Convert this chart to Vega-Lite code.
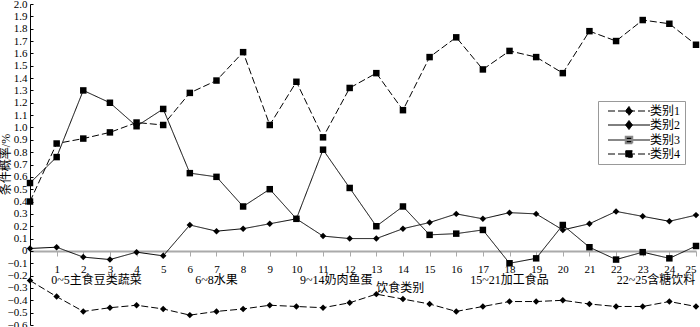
{
  "$schema": "https://vega.github.io/schema/vega-lite/v6.json",
  "width": 666,
  "height": 321,
  "autosize": {"type": "none"},
  "padding": {"left": 30, "top": 4, "right": 4, "bottom": 2},
  "background": "white",
  "config": {
    "view": {"stroke": null},
    "font": "Liberation Serif, Noto Sans CJK SC, serif",
    "axis": {"labelFont": "Liberation Serif, Noto Sans CJK SC, serif", "titleFont": "Liberation Serif, Noto Sans CJK SC, serif", "grid": false, "labelOverlap": false},
    "axisX": {"offset": -74, "domainColor": "#aaaaaa", "domainWidth": 2, "tickColor": "#aaaaaa", "tickSize": 5,
      "labelPadding": 7, "labelFontSize": 11, "labelColor": "black", "labelOverlap": false, "title": null},
    "axisY": {"labelExpr": "abs(datum.value) < 1e-9 ? '0' : format(datum.value, '.1f')",
      "domainColor": "black", "tickColor": "black", "tickSize": -3, "labelPadding": 6, "labelFontSize": 11, "labelColor": "black", "labelOverlap": false,
      "titleFontSize": 12, "titleFontWeight": "normal", "titleColor": "black",
      "titleX": -25, "titleY": 160, "titleAlign": "center", "titleBaseline": "middle", "titleAngle": -90}
  },
  "datasets": {
    "groups": [
      {"mid": 2.5, "label": "0~5主食豆类蔬菜"},
      {"mid": 7, "label": "6~8水果"},
      {"mid": 11.5, "label": "9~14奶肉鱼蛋"},
      {"mid": 18, "label": "15~21加工食品"},
      {"mid": 23.5, "label": "22~25含糖饮料"}
    ],
    "xtitle": [{"mid": 13.9, "label": "饮食类别"}]
  },
  "data": {"values": [
    {"x":0,"s":"类别1","v":-0.24},{"x":1,"s":"类别1","v":-0.37},{"x":2,"s":"类别1","v":-0.49},{"x":3,"s":"类别1","v":-0.46},{"x":4,"s":"类别1","v":-0.44},{"x":5,"s":"类别1","v":-0.47},{"x":6,"s":"类别1","v":-0.52},{"x":7,"s":"类别1","v":-0.49},{"x":8,"s":"类别1","v":-0.47},{"x":9,"s":"类别1","v":-0.44},{"x":10,"s":"类别1","v":-0.45},{"x":11,"s":"类别1","v":-0.46},{"x":12,"s":"类别1","v":-0.42},{"x":13,"s":"类别1","v":-0.35},{"x":14,"s":"类别1","v":-0.39},{"x":15,"s":"类别1","v":-0.43},{"x":16,"s":"类别1","v":-0.49},{"x":17,"s":"类别1","v":-0.45},{"x":18,"s":"类别1","v":-0.41},{"x":19,"s":"类别1","v":-0.41},{"x":20,"s":"类别1","v":-0.40},{"x":21,"s":"类别1","v":-0.43},{"x":22,"s":"类别1","v":-0.45},{"x":23,"s":"类别1","v":-0.45},{"x":24,"s":"类别1","v":-0.41},{"x":25,"s":"类别1","v":-0.45},
    {"x":0,"s":"类别2","v":0.02},{"x":1,"s":"类别2","v":0.03},{"x":2,"s":"类别2","v":-0.05},{"x":3,"s":"类别2","v":-0.07},{"x":4,"s":"类别2","v":-0.01},{"x":5,"s":"类别2","v":-0.04},{"x":6,"s":"类别2","v":0.21},{"x":7,"s":"类别2","v":0.16},{"x":8,"s":"类别2","v":0.18},{"x":9,"s":"类别2","v":0.22},{"x":10,"s":"类别2","v":0.26},{"x":11,"s":"类别2","v":0.12},{"x":12,"s":"类别2","v":0.10},{"x":13,"s":"类别2","v":0.10},{"x":14,"s":"类别2","v":0.18},{"x":15,"s":"类别2","v":0.23},{"x":16,"s":"类别2","v":0.30},{"x":17,"s":"类别2","v":0.26},{"x":18,"s":"类别2","v":0.31},{"x":19,"s":"类别2","v":0.30},{"x":20,"s":"类别2","v":0.17},{"x":21,"s":"类别2","v":0.22},{"x":22,"s":"类别2","v":0.32},{"x":23,"s":"类别2","v":0.28},{"x":24,"s":"类别2","v":0.24},{"x":25,"s":"类别2","v":0.29},
    {"x":0,"s":"类别3","v":0.55},{"x":1,"s":"类别3","v":0.76},{"x":2,"s":"类别3","v":1.30},{"x":3,"s":"类别3","v":1.20},{"x":4,"s":"类别3","v":1.01},{"x":5,"s":"类别3","v":1.15},{"x":6,"s":"类别3","v":0.63},{"x":7,"s":"类别3","v":0.60},{"x":8,"s":"类别3","v":0.36},{"x":9,"s":"类别3","v":0.50},{"x":10,"s":"类别3","v":0.26},{"x":11,"s":"类别3","v":0.82},{"x":12,"s":"类别3","v":0.51},{"x":13,"s":"类别3","v":0.20},{"x":14,"s":"类别3","v":0.36},{"x":15,"s":"类别3","v":0.13},{"x":16,"s":"类别3","v":0.14},{"x":17,"s":"类别3","v":0.17},{"x":18,"s":"类别3","v":-0.10},{"x":19,"s":"类别3","v":-0.06},{"x":20,"s":"类别3","v":0.21},{"x":21,"s":"类别3","v":0.03},{"x":22,"s":"类别3","v":-0.07},{"x":23,"s":"类别3","v":-0.01},{"x":24,"s":"类别3","v":-0.06},{"x":25,"s":"类别3","v":0.04},
    {"x":0,"s":"类别4","v":0.40},{"x":1,"s":"类别4","v":0.87},{"x":2,"s":"类别4","v":0.91},{"x":3,"s":"类别4","v":0.96},{"x":4,"s":"类别4","v":1.04},{"x":5,"s":"类别4","v":1.02},{"x":6,"s":"类别4","v":1.28},{"x":7,"s":"类别4","v":1.38},{"x":8,"s":"类别4","v":1.61},{"x":9,"s":"类别4","v":1.02},{"x":10,"s":"类别4","v":1.37},{"x":11,"s":"类别4","v":0.92},{"x":12,"s":"类别4","v":1.32},{"x":13,"s":"类别4","v":1.44},{"x":14,"s":"类别4","v":1.14},{"x":15,"s":"类别4","v":1.57},{"x":16,"s":"类别4","v":1.73},{"x":17,"s":"类别4","v":1.47},{"x":18,"s":"类别4","v":1.62},{"x":19,"s":"类别4","v":1.57},{"x":20,"s":"类别4","v":1.44},{"x":21,"s":"类别4","v":1.78},{"x":22,"s":"类别4","v":1.70},{"x":23,"s":"类别4","v":1.87},{"x":24,"s":"类别4","v":1.84},{"x":25,"s":"类别4","v":1.67}
  ]},
  "layer": [
    {
      "mark": {"type": "line", "color": "black", "strokeWidth": 1},
      "encoding": {
        "x": {"field": "x", "type": "quantitative", "scale": {"domain": [0, 25], "nice": false, "zero": false},
          "axis": {"title": null, "labelOverlap": false, "values": [1,2,3,4,5,6,7,8,9,10,11,12,13,14,15,16,17,18,19,20,21,22,23,24,25]}},
        "y": {"field": "v", "type": "quantitative", "scale": {"domain": [-0.6, 2.0], "nice": false, "zero": false},
          "axis": {"title": "条件概率/%", "labelOverlap": false, "values": [-0.6,-0.5,-0.4,-0.3,-0.2,-0.1,0,0.1,0.2,0.3,0.4,0.5,0.6,0.7,0.8,0.9,1.0,1.1,1.2,1.3,1.4,1.5,1.6,1.7,1.8,1.9,2.0]}},
        "strokeDash": {"field": "s", "type": "nominal",
          "scale": {"domain": ["类别1","类别2","类别3","类别4"], "range": [[7,3],[1,0],[1,0],[7,3]]},
          "legend": {"title": null, "orient": "none", "legendX": 568, "legendY": 97,
            "strokeColor": "#999999", "fillColor": "white", "padding": 4, "rowPadding": 0,
            "symbolSize": 100, "labelFontSize": 12, "labelColor": "black",
            "symbolOffset": 21, "labelOffset": 15,
            "symbolType": {"expr": "(datum.value === '类别1' || datum.value === '类别2') ? 'M-4.2,0H4.2M-0.7,0L0,-0.9L0.7,0L0,0.9Z' : 'M-4.2,0H4.2M-0.65,-0.65H0.65V0.65H-0.65Z'"},
            "symbolFillColor": "black",
            "symbolStrokeColor": {"expr": "datum.value === '类别3' ? '#888888' : 'black'"},
            "symbolStrokeWidth": {"expr": "datum.value === '类别3' ? 2 : 1"}
          }
        }
      }
    },
    {
      "mark": {"type": "point", "filled": true, "color": "black", "opacity": 1, "size": 42},
      "encoding": {
        "x": {"field": "x", "type": "quantitative",
          "axis": {"title": null, "labelOverlap": false, "values": [1,2,3,4,5,6,7,8,9,10,11,12,13,14,15,16,17,18,19,20,21,22,23,24,25]}},
        "y": {"field": "v", "type": "quantitative",
          "axis": {"title": "条件概率/%", "labelOverlap": false, "values": [-0.6,-0.5,-0.4,-0.3,-0.2,-0.1,0,0.1,0.2,0.3,0.4,0.5,0.6,0.7,0.8,0.9,1.0,1.1,1.2,1.3,1.4,1.5,1.6,1.7,1.8,1.9,2.0]}},
        "shape": {"field": "s", "type": "nominal",
          "scale": {"domain": ["类别3","类别4","类别1","类别2"], "range": ["square","square","diamond","diamond"]},
          "legend": null}
      }
    },
    {
      "data": {"name": "groups"},
      "mark": {"type": "text", "fontSize": 12, "fill": "black", "baseline": "middle", "align": "center"},
      "encoding": {
        "x": {"field": "mid", "type": "quantitative",
          "axis": {"title": null, "labelOverlap": false, "values": [1,2,3,4,5,6,7,8,9,10,11,12,13,14,15,16,17,18,19,20,21,22,23,24,25]}},
        "y": {"datum": -0.235, "type": "quantitative",
          "axis": {"title": "条件概率/%", "labelOverlap": false, "values": [-0.6,-0.5,-0.4,-0.3,-0.2,-0.1,0,0.1,0.2,0.3,0.4,0.5,0.6,0.7,0.8,0.9,1.0,1.1,1.2,1.3,1.4,1.5,1.6,1.7,1.8,1.9,2.0]}},
        "text": {"field": "label", "type": "nominal"}
      }
    },
    {
      "data": {"name": "xtitle"},
      "mark": {"type": "text", "fontSize": 12, "fill": "black", "baseline": "middle", "align": "center"},
      "encoding": {
        "x": {"field": "mid", "type": "quantitative",
          "axis": {"title": null, "labelOverlap": false, "values": [1,2,3,4,5,6,7,8,9,10,11,12,13,14,15,16,17,18,19,20,21,22,23,24,25]}},
        "y": {"datum": -0.30, "type": "quantitative",
          "axis": {"title": "条件概率/%", "labelOverlap": false, "values": [-0.6,-0.5,-0.4,-0.3,-0.2,-0.1,0,0.1,0.2,0.3,0.4,0.5,0.6,0.7,0.8,0.9,1.0,1.1,1.2,1.3,1.4,1.5,1.6,1.7,1.8,1.9,2.0]}},
        "text": {"field": "label", "type": "nominal"}
      }
    }
  ]
}
